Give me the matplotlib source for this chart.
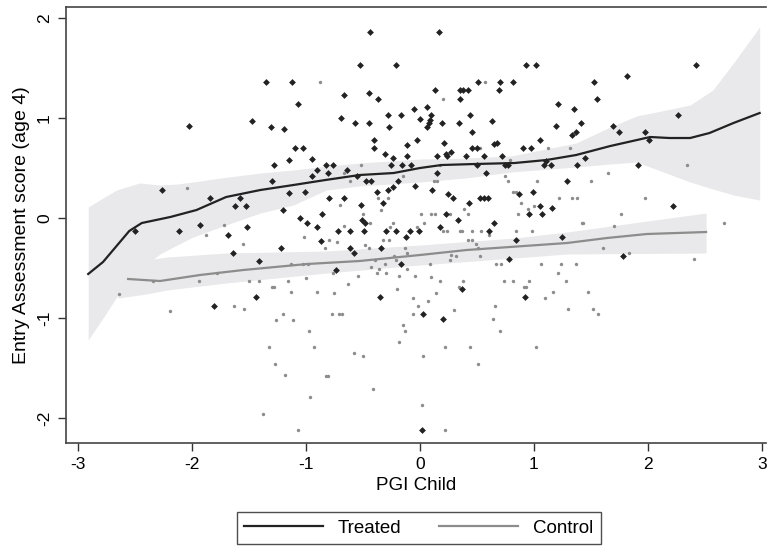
import numpy as np
import matplotlib
matplotlib.use("Agg")
import matplotlib.pyplot as plt
from matplotlib.lines import Line2D

plt.rcParams["font.family"] = ["Liberation Sans", "DejaVu Sans"]
plt.rcParams["axes.unicode_minus"] = False

# Treated (dark markers): (PGI, score)
treated_pts = [
    (-1.35, 1.36), (-1.12, 1.36), (-1.07, 1.14), (-2.03, 0.92), (-1.47, 0.97), (-1.31, 0.91),
    (-1.19, 0.89), (-1.10, 0.70), (-1.03, 0.70), (-1.28, 0.53), (-1.15, 0.58), (-0.95, 0.59),
    (-0.82, 0.53), (-0.90, 0.48), (-0.95, 0.42), (-0.81, 0.45), (-1.30, 0.37), (-2.26, 0.28),
    (-1.15, 0.25), (-1.01, 0.26), (-1.84, 0.20), (-1.58, 0.20), (-1.62, 0.12), (-1.53, 0.12),
    (-1.20, 0.08), (-0.86, 0.04), (-0.80, 0.20), (-1.05, 0.00), (-0.99, -0.05), (-1.93, -0.07),
    (-1.52, -0.09),
    (-0.44, 1.86), (0.17, 1.86), (-0.53, 1.53), (-0.21, 1.53), (-0.67, 1.23), (-0.45, 1.25),
    (-0.37, 1.19), (0.13, 1.28), (0.35, 1.28), (0.38, 1.28), (0.42, 1.28), (0.35, 1.19),
    (0.51, 1.36), (0.70, 1.36), (0.82, 1.36), (0.69, 1.28), (-0.69, 1.00), (-0.57, 0.95),
    (-0.45, 0.95), (-0.28, 1.03), (-0.17, 1.03), (-0.27, 0.91), (-0.05, 1.09), (0.06, 1.11),
    (0.00, 0.99), (0.10, 1.03), (0.09, 0.98), (0.08, 0.95), (0.06, 0.91), (0.19, 0.95),
    (0.34, 0.95), (0.44, 1.03), (0.63, 0.97), (0.46, 0.86), (-0.40, 0.78), (-0.40, 0.70),
    (-0.03, 0.78), (-0.11, 0.73), (-0.31, 0.64), (-0.24, 0.60), (-0.11, 0.62), (0.21, 0.75),
    (0.15, 0.62), (0.23, 0.64), (0.24, 0.62), (0.27, 0.66), (0.40, 0.62), (0.46, 0.70),
    (0.50, 0.70), (0.65, 0.74), (0.68, 0.75), (0.56, 0.62), (0.72, 0.62), (-0.76, 0.53),
    (-0.64, 0.48), (-0.55, 0.42), (-0.47, 0.37), (-0.43, 0.37), (-0.25, 0.53), (-0.16, 0.53),
    (-0.08, 0.53), (0.15, 0.45), (0.50, 0.53), (0.58, 0.45), (0.75, 0.53), (0.77, 0.53),
    (-0.19, 0.37), (-0.24, 0.31), (-0.28, 0.28), (-0.04, 0.32), (0.11, 0.28), (-0.38, 0.26),
    (-0.67, 0.20), (-0.32, 0.15), (-0.52, 0.13), (0.25, 0.24), (0.29, 0.20), (0.43, 0.15),
    (0.53, 0.20), (0.56, 0.20), (0.60, 0.20), (0.23, 0.04), (0.33, -0.02), (0.65, -0.05),
    (-0.51, -0.02), (-0.48, -0.05),
    (0.93, 1.53), (1.02, 1.53), (1.53, 1.36), (1.82, 1.42), (2.42, 1.53), (1.55, 1.19),
    (1.21, 1.14), (1.35, 1.09), (2.26, 1.03), (1.19, 0.92), (1.41, 0.95), (1.37, 0.86),
    (1.33, 0.83), (1.69, 0.92), (1.75, 0.86), (1.97, 0.86), (2.01, 0.78), (1.05, 0.78),
    (0.90, 0.70), (0.97, 0.70), (1.45, 0.60), (1.11, 0.57), (1.09, 0.53), (1.15, 0.53),
    (1.38, 0.53), (1.91, 0.53), (1.29, 0.37), (0.87, 0.24), (0.99, 0.26), (1.05, 0.12),
    (1.16, 0.10), (0.96, 0.04), (1.07, 0.04), (2.22, 0.12),
    (-2.11, -0.13), (-1.68, -0.17), (-1.64, -0.35), (-1.22, -0.30), (-1.41, -0.43),
    (-0.90, -0.09), (-0.87, -0.23), (-1.44, -0.79), (-1.81, -0.88), (-2.50, -0.13),
    (-0.72, -0.13), (-0.61, -0.13), (-0.49, -0.13), (-0.30, -0.13), (-0.21, -0.13),
    (-0.09, -0.13), (-0.01, -0.13), (-0.12, -0.19), (0.18, -0.09), (0.61, -0.13),
    (-0.61, -0.30), (-0.58, -0.35), (-0.34, -0.30), (-0.74, -0.52), (-0.17, -0.46),
    (0.78, -0.41), (0.37, -0.71), (-0.35, -0.79), (0.03, -0.96), (0.20, -1.01), (0.02, -2.12),
    (0.84, -0.22), (1.25, -0.19), (1.78, -0.38), (0.92, -0.79),
]

# Control (light grey markers)
control_pts = [
    (-0.88, 1.36), (-2.04, 0.30), (-1.72, -0.07),
    (0.57, 1.36), (0.20, 1.19), (-0.52, 0.53), (-0.67, 0.45), (-0.61, 0.37), (0.18, 0.53),
    (0.12, 0.37), (0.15, 0.37), (0.75, 0.42), (0.77, 0.37), (0.82, 0.26), (0.53, 0.70),
    (0.79, 0.58), (-0.37, 0.20), (-0.28, 0.20), (-0.34, 0.08), (-0.70, 0.13), (0.01, 0.04),
    (0.10, 0.04), (0.13, 0.04), (0.39, 0.09), (0.42, 0.04), (0.26, 0.04), (-0.50, 0.04),
    (-0.44, -0.05), (-0.24, -0.05), (0.04, -0.05), (-0.15, 0.42),
    (1.12, 0.70), (1.32, 0.70), (2.34, 0.53), (1.65, 0.45), (1.03, 0.37), (1.50, 0.37),
    (0.84, 0.26), (1.22, 0.20), (1.33, 0.20), (1.38, 0.20), (1.97, 0.20), (0.89, 0.15),
    (0.95, 0.09), (1.00, 0.12), (0.86, 0.04), (1.76, 0.04), (1.42, -0.05),
    (-1.88, -0.17), (-1.55, -0.26), (-1.02, -0.19), (-0.83, -0.30), (-0.80, -0.22),
    (-1.13, -0.46), (-1.03, -0.46), (-0.98, -0.46), (-1.78, -0.55), (-2.34, -0.63),
    (-1.94, -0.63), (-1.50, -0.63), (-1.41, -0.63), (-1.30, -0.69), (-1.28, -0.69),
    (-1.16, -0.63), (-1.00, -0.60), (-1.13, -0.74), (-0.90, -0.74), (-2.19, -0.93),
    (-1.63, -0.88), (-1.54, -0.91), (-1.20, -0.96), (-1.26, -1.02), (-1.11, -1.02),
    (-0.97, -1.13), (-1.32, -1.29), (-0.93, -1.29), (-1.27, -1.46), (-1.18, -1.57),
    (-0.82, -1.58), (-0.96, -1.79), (-1.38, -1.96), (-1.07, -2.12), (-2.64, -0.76),
    (-0.67, -0.08), (-0.73, -0.24), (-0.48, -0.27), (-0.45, -0.30), (-0.26, -0.09),
    (-0.32, -0.22), (-0.27, -0.22), (-0.13, -0.30), (-0.03, -0.09), (0.20, -0.13),
    (0.24, -0.13), (0.35, -0.13), (0.37, -0.13), (0.46, -0.13), (0.54, -0.13), (0.42, -0.22),
    (0.46, -0.22), (0.49, -0.26), (0.51, -0.30), (0.61, -0.17), (-0.23, -0.38), (-0.11, -0.35),
    (-0.39, -0.42), (-0.21, -0.42), (-0.43, -0.49), (-0.36, -0.51), (-0.31, -0.46),
    (-0.11, -0.51), (-0.76, -0.55), (-0.54, -0.58), (-0.38, -0.55), (-0.30, -0.55),
    (-0.18, -0.58), (-0.04, -0.58), (0.09, -0.46), (0.10, -0.59), (0.26, -0.42), (0.27, -0.37),
    (0.32, -0.38), (0.53, -0.38), (0.67, -0.46), (0.71, -0.46), (0.18, -0.63), (0.38, -0.63),
    (0.34, -0.69), (0.74, -0.63), (0.82, -0.63), (-0.63, -0.66), (-0.20, -0.71), (-0.75, -0.75),
    (-0.06, -0.80), (0.14, -0.75), (0.07, -0.83), (-0.02, -0.88), (-0.06, -0.96), (-0.77, -0.96),
    (-0.71, -0.96), (-0.68, -0.96), (0.30, -0.92), (0.66, -0.88), (0.64, -1.01), (0.70, -1.13),
    (-0.15, -1.07), (-0.13, -1.13), (-0.18, -1.24), (0.22, -1.29), (0.44, -1.29), (-0.58, -1.35),
    (-0.50, -1.38), (0.03, -1.38), (0.51, -1.46), (-0.81, -1.58), (-0.41, -1.71), (0.02, -1.87),
    (0.22, -2.12),
    (0.84, -0.13), (0.98, -0.13), (1.43, -0.05), (1.70, -0.08), (1.61, -0.30), (1.83, -0.35),
    (2.40, -0.41), (1.06, -0.46), (1.24, -0.46), (1.37, -0.46), (1.21, -0.55), (0.96, -0.63),
    (1.28, -0.63), (0.91, -0.69), (0.93, -0.69), (1.17, -0.74), (1.47, -0.74), (1.10, -0.80),
    (1.30, -0.91), (1.52, -0.91), (1.56, -0.96), (1.02, -1.29), (2.67, -0.05),
]

# smoothed fits and confidence bands
treated_fit_x = [-2.91, -2.78, -2.55, -2.44, -2.19, -1.96, -1.70, -1.40, -1.11, -0.83, -0.53,
                 -0.23, 0.0, 0.19, 0.48, 0.83, 1.11, 1.37, 1.67, 2.02, 2.19, 2.37, 2.54, 2.75, 2.98]
treated_fit_y = [-0.56, -0.44, -0.13, -0.05, 0.01, 0.08, 0.21, 0.28, 0.33, 0.38, 0.43,
                 0.45, 0.50, 0.53, 0.54, 0.55, 0.58, 0.63, 0.72, 0.81, 0.80, 0.80, 0.85, 0.95, 1.05]
treated_band_x = [-2.91, -2.78, -2.66, -2.46, -2.28, -2.13, -1.99, -1.75, -1.40, -1.11, -0.82,
                  -0.53, 0.0, 0.40, 0.80, 1.37, 1.67, 1.90, 2.16, 2.37, 2.57, 2.75, 2.98]
treated_band_hi = [0.11, 0.20, 0.28, 0.35, 0.33, 0.34, 0.36, 0.40, 0.45, 0.48, 0.52,
                   0.55, 0.59, 0.60, 0.62, 0.75, 0.91, 1.02, 1.08, 1.13, 1.28, 1.55, 1.91]
treated_band_lo = [-1.22, -1.00, -0.79, -0.52, -0.36, -0.27, -0.19, -0.09, 0.05, 0.13, 0.28,
                   0.32, 0.36, 0.40, 0.46, 0.51, 0.54, 0.56, 0.45, 0.36, 0.29, 0.23, 0.18]

control_fit_x = [-2.56, -2.28, -1.93, -1.55, -0.99, -0.53, 0.0, 0.41, 1.29, 1.64, 1.99, 2.51]
control_fit_y = [-0.61, -0.63, -0.57, -0.52, -0.46, -0.43, -0.37, -0.32, -0.25, -0.20, -0.16, -0.14]
control_band_x = [-2.65, -2.40, -2.22, -1.70, -0.82, 0.0, 0.83, 1.29, 2.51]
control_band_hi = [-0.42, -0.42, -0.39, -0.35, -0.33, -0.27, -0.20, -0.14, 0.05]
control_band_lo = [-0.80, -0.76, -0.72, -0.65, -0.55, -0.47, -0.40, -0.36, -0.35]

tx, ty = np.array(treated_pts).T
cx, cy = np.array(control_pts).T

band_color = "#e9e9eb"
dark = "#222222"
grey = "#8c8c8c"

fig = plt.figure(figsize=(7.67, 5.48), dpi=100)
ax = fig.add_axes([0.086, 0.1916, 0.9126, 0.7956])

ax.fill_between(treated_band_x, treated_band_lo, treated_band_hi, color=band_color, lw=0, zorder=1)
ax.fill_between(control_band_x, control_band_lo, control_band_hi, color=band_color, lw=0, zorder=1)

ax.scatter(cx, cy, s=6, marker="o", color=grey, lw=0, zorder=2)
ax.scatter(tx, ty, s=12, marker="D", color=dark, lw=0, zorder=2)

ax.plot(treated_fit_x, treated_fit_y, color=dark, lw=1.6, zorder=3)
ax.plot(control_fit_x, control_fit_y, color=grey, lw=1.6, zorder=3)

ax.set_xlim(-3.105, 3.035)
ax.set_ylim(-2.25, 2.11)
ax.set_xticks([-3, -2, -1, 0, 1, 2, 3])
ax.set_yticks([-2, -1, 0, 1, 2])
for lab in ax.get_yticklabels():
    lab.set_rotation(90)
    lab.set_va("center")
ax.tick_params(direction="out", length=6, width=1, color="#333333", labelsize=12.5, pad=4)
ax.spines["right"].set_visible(False)
for s in ["left", "bottom", "top"]:
    ax.spines[s].set_color("#444444")
    ax.spines[s].set_linewidth(1.2)

ax.set_xlabel("PGI Child", fontsize=13.5, labelpad=4)
ax.set_ylabel("Entry Assessment score (age 4)", fontsize=14, labelpad=5)

handles = [Line2D([], [], color=dark, lw=1.6), Line2D([], [], color=grey, lw=1.6)]
leg = fig.legend(handles, ["Treated", "Control"], loc="center", bbox_to_anchor=(0.546, 0.036),
                 ncol=2, frameon=True, fancybox=False, fontsize=13.5, handlelength=4.2,
                 columnspacing=2.0, borderpad=0.4)
leg.get_frame().set_edgecolor("#222222")
leg.get_frame().set_linewidth(1.0)

fig.savefig("out.png", dpi=100)
